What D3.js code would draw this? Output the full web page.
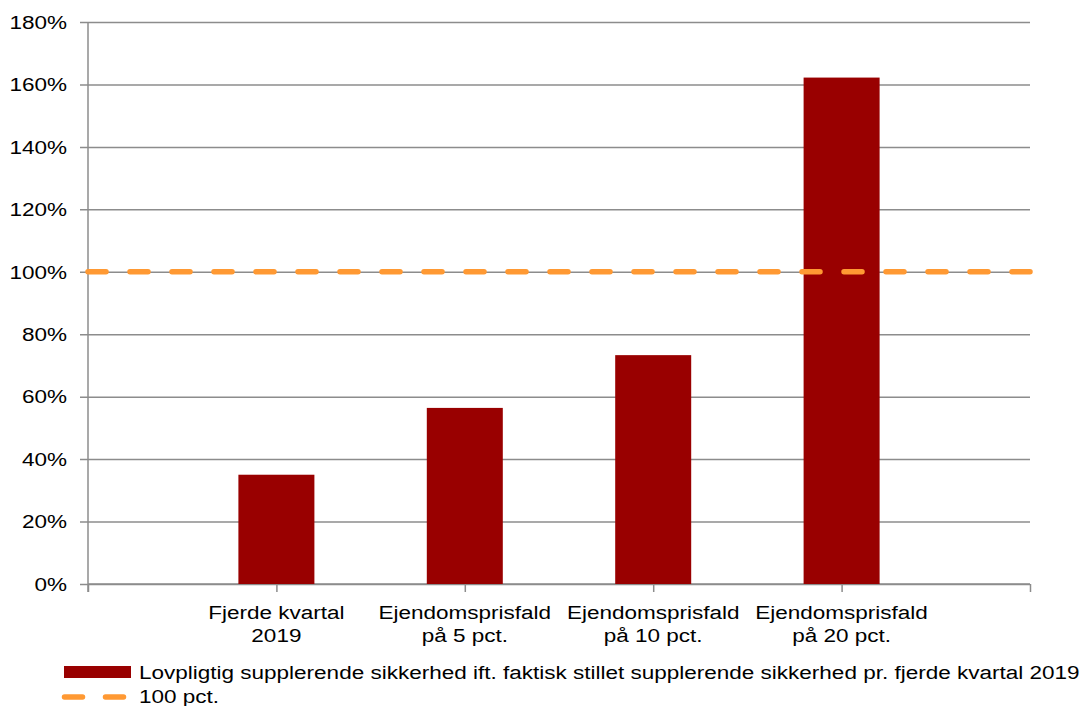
<!DOCTYPE html>
<html>
<head>
<meta charset="utf-8">
<script src="https://cdn.jsdelivr.net/npm/d3@7"></script>
<style>
  html, body { margin: 0; padding: 0; background: #fff; }
  svg { display: block; font-family: "Liberation Sans", Arial, sans-serif; }
</style>
</head>
<body>
<svg id="chart" width="1088" height="706"></svg>
<script>
// Category slots: empty slots at both ends give the axis its margins
const categories = ["", "Fjerde kvartal|2019", "Ejendomsprisfald|på 5 pct.", "Ejendomsprisfald|på 10 pct.", "Ejendomsprisfald|på 20 pct.", " "];
const barCategories = categories.slice(1, 5);
const barValues = [0.35, 0.564, 0.733, 1.622];
const thresholdValues = [1, 1, 1, 1, 1, 1];
const yTicks = [0, 0.2, 0.4, 0.6, 0.8, 1.0, 1.2, 1.4, 1.6, 1.8];
const seriesNames = ["Lovpligtig supplerende sikkerhed ift. faktisk stillet supplerende sikkerhed pr. fjerde kvartal 2019", "100 pct."];

const barColor = "#990000";
const lineColor = "#ff9933";
const gridColor = "#8c8c8c";
const fontSize = 18;
const widen = 1.25; // text is drawn slightly wide

const svg = d3.select("#chart");
const plot = { left: 88, right: 1030, top: 22, bottom: 584 };

const x = d3.scalePoint().domain(categories).range([plot.left, plot.right]);
const y = d3.scaleLinear().domain([0, 1.8]).range([plot.bottom, plot.top]);
const barWidth = 76;

// Stretch a text (or tspan) element horizontally
function stretch(sel) {
  sel.each(function () {
    const w = this.getComputedTextLength();
    d3.select(this).attr("textLength", w * widen).attr("lengthAdjust", "spacingAndGlyphs");
  });
}

// Horizontal gridlines with short outward ticks
const yAxis = svg.append("g")
  .attr("transform", `translate(${plot.left},0)`)
  .call(d3.axisLeft(y).tickValues(yTicks).tickSize(-(plot.right - plot.left)).tickPadding(21)
    .tickFormat(d => Math.round(d * 100) + "%"));
yAxis.select(".domain").remove();
yAxis.selectAll(".tick line")
  .attr("x1", -8)
  .attr("stroke", gridColor).attr("stroke-width", 1.5);
yAxis.selectAll(".tick text")
  .attr("fill", "#000").attr("font-size", fontSize).attr("dy", "0.35em")
  .attr("font-family", "Liberation Sans, Arial, sans-serif")
  .call(stretch);

// Vertical axis line
svg.append("line")
  .attr("x1", plot.left).attr("x2", plot.left)
  .attr("y1", plot.top).attr("y2", plot.bottom + 8)
  .attr("stroke", gridColor).attr("stroke-width", 1.5);

// Category axis
const xAxis = svg.append("g")
  .attr("transform", `translate(0,${plot.bottom})`)
  .call(d3.axisBottom(x).tickSize(8).tickFormat(""));
xAxis.select(".domain")
  .attr("d", `M${plot.left},0H${plot.right}`)
  .attr("stroke", gridColor).attr("stroke-width", 1.5);
xAxis.selectAll(".tick line").attr("stroke", gridColor).attr("stroke-width", 1.5);

// Two-line category labels
barCategories.forEach(c => {
  const lines = c.split("|");
  lines.forEach((ln, i) => {
    svg.append("text")
      .attr("x", x(c)).attr("y", 619 + i * 23)
      .attr("text-anchor", "middle").attr("font-size", fontSize).attr("fill", "#000")
      .text(ln)
      .call(stretch);
  });
});

// Bars
svg.append("g").selectAll("rect")
  .data(barValues)
  .join("rect")
  .attr("x", (d, i) => x(barCategories[i]) - barWidth / 2)
  .attr("y", d => y(d))
  .attr("width", barWidth)
  .attr("height", d => y(0) - y(d))
  .attr("fill", barColor);

// 100 pct. reference line
const line = d3.line().x((d, i) => x(categories[i])).y(d => y(d));
svg.append("path")
  .datum(thresholdValues)
  .attr("d", line)
  .attr("fill", "none")
  .attr("stroke", lineColor)
  .attr("stroke-width", 5.5)
  .attr("stroke-linecap", "round")
  .attr("stroke-dasharray", "18,24");

// Legend
const legend = svg.append("g");
legend.append("rect")
  .attr("x", 64).attr("y", 666).attr("width", 67).attr("height", 12)
  .attr("fill", barColor);
legend.append("text")
  .attr("x", 139).attr("y", 679).attr("font-size", fontSize).attr("fill", "#000")
  .text(seriesNames[0])
  .call(stretch);
legend.append("line")
  .attr("x1", 64.5).attr("x2", 124).attr("y1", 697).attr("y2", 697)
  .attr("stroke", lineColor).attr("stroke-width", 5.5)
  .attr("stroke-linecap", "round").attr("stroke-dasharray", "18,23");
legend.append("text")
  .attr("x", 139).attr("y", 703).attr("font-size", fontSize).attr("fill", "#000")
  .text(seriesNames[1])
  .call(stretch);
</script>
</body>
</html>
